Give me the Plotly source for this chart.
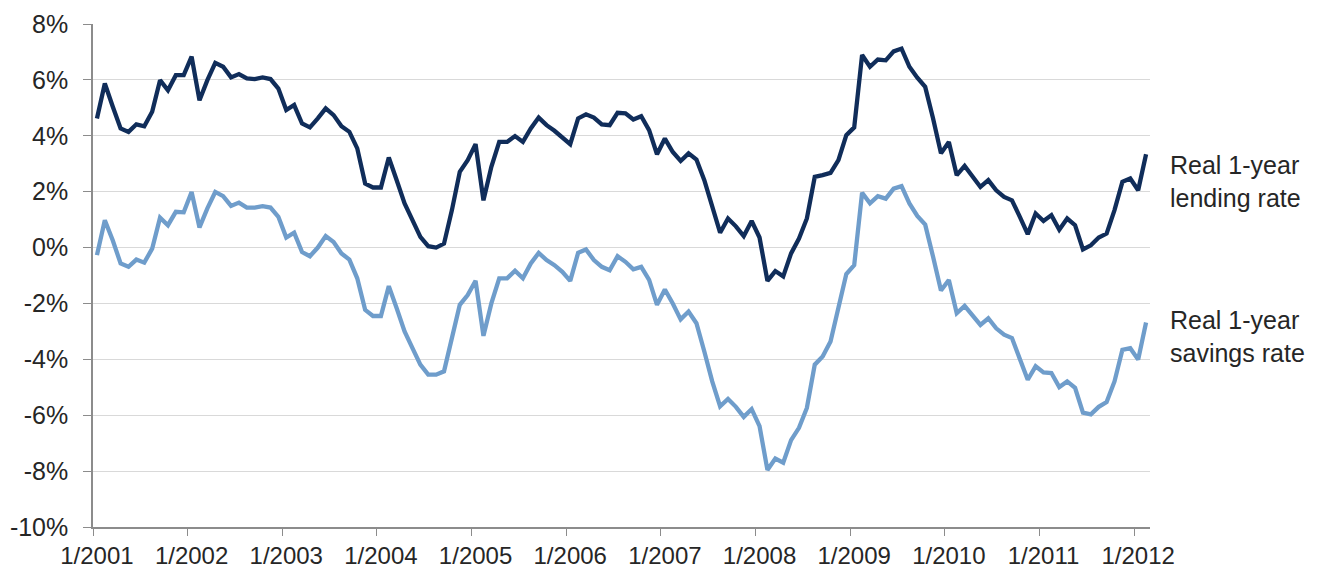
import plotly.graph_objects as go

# Monthly observations, Jan 2001 – Feb 2012
years = list(range(2001, 2013))
months = [f"{m}/{y}" for y in years for m in range(1, 13)][:134]

# Real 1-year lending rate, %
lending = [
    4.62, 5.87, 5.05, 4.26, 4.14, 4.41, 4.34, 4.86, 5.99, 5.63, 6.17, 6.17,
    6.83, 5.27, 5.99, 6.61, 6.47, 6.09, 6.21, 6.05, 6.03, 6.09, 6.03, 5.69,
    4.92, 5.10, 4.44, 4.30, 4.62, 4.98, 4.74, 4.34, 4.14, 3.55, 2.29, 2.15,
    2.15, 3.22, 2.41, 1.58, 0.98, 0.38, 0.05, 0.00, 0.14, 1.34, 2.71, 3.13,
    3.70, 1.69, 2.89, 3.78, 3.78, 3.99, 3.78, 4.26, 4.65, 4.38, 4.18, 3.94,
    3.70, 4.62, 4.77, 4.65, 4.41, 4.38, 4.82, 4.80, 4.58, 4.70, 4.20, 3.34,
    3.90, 3.42, 3.10, 3.37, 3.15, 2.41, 1.46, 0.53, 1.04, 0.76, 0.41, 0.95,
    0.36, -1.19, -0.84, -1.03, -0.21, 0.32, 1.04, 2.53, 2.59, 2.67, 3.13, 4.02,
    4.30, 6.89, 6.47, 6.73, 6.70, 7.02, 7.12, 6.47, 6.08, 5.75, 4.62, 3.37,
    3.78, 2.59, 2.92, 2.53, 2.17, 2.41, 2.05, 1.81, 1.69, 1.10, 0.48, 1.22,
    0.95, 1.16, 0.64, 1.04, 0.80, -0.07, 0.08, 0.36, 0.50, 1.34, 2.35, 2.47,
    2.05, 3.34,
]

# Real 1-year savings rate, %
savings = [
    -0.27, 0.98, 0.26, -0.57, -0.69, -0.43, -0.54, -0.04, 1.07, 0.80, 1.28, 1.26,
    1.99, 0.72, 1.40, 1.99, 1.84, 1.49, 1.61, 1.43, 1.43, 1.48, 1.43, 1.10,
    0.36, 0.53, -0.16, -0.31, 0.00, 0.41, 0.20, -0.21, -0.43, -1.10, -2.23, -2.45,
    -2.45, -1.38, -2.17, -3.00, -3.60, -4.19, -4.55, -4.55, -4.43, -3.30, -2.05, -1.70,
    -1.19, -3.16, -2.00, -1.10, -1.10, -0.83, -1.10, -0.57, -0.19, -0.45, -0.63, -0.87,
    -1.19, -0.19, -0.07, -0.45, -0.69, -0.81, -0.31, -0.51, -0.78, -0.69, -1.16, -2.05,
    -1.50, -2.00, -2.57, -2.29, -2.71, -3.72, -4.79, -5.68, -5.42, -5.70, -6.06, -5.78,
    -6.39, -7.96, -7.55, -7.70, -6.89, -6.45, -5.74, -4.19, -3.90, -3.36, -2.23, -0.95,
    -0.63, 1.96, 1.58, 1.84, 1.75, 2.11, 2.20, 1.58, 1.13, 0.82, -0.33, -1.54,
    -1.16, -2.35, -2.09, -2.45, -2.77, -2.53, -2.89, -3.12, -3.24, -3.99, -4.73, -4.25,
    -4.47, -4.49, -4.99, -4.79, -5.02, -5.91, -5.97, -5.70, -5.53, -4.79, -3.66, -3.60,
    -4.01, -2.68,
]

year_labels = [f"1/{y}" for y in years]
y_ticks = list(range(-10, 9, 2))

x_pos = list(range(len(months)))
label_pos = [months.index(lbl) for lbl in year_labels]
boundary_pos = [p - 0.5 for p in label_pos]

DARK = "#102d5a"
LIGHT = "#6f9dcb"
AXIS = "#8c8c8c"
TEXT = "#262626"
FONT = "Liberation Sans, Arial, sans-serif"

fig = go.Figure()
fig.add_trace(go.Scatter(
    x=x_pos, y=lending, mode="lines", name="Real 1-year lending rate",
    line=dict(color=DARK, width=4.3), customdata=months,
    hovertemplate="%{customdata}: %{y:.2f}%<extra></extra>",
))
fig.add_trace(go.Scatter(
    x=x_pos, y=savings, mode="lines", name="Real 1-year savings rate",
    line=dict(color=LIGHT, width=4.3), customdata=months,
    hovertemplate="%{customdata}: %{y:.2f}%<extra></extra>",
))

fig.update_layout(
    width=1325, height=571,
    margin=dict(l=93, r=175, t=24, b=44),
    paper_bgcolor="white", plot_bgcolor="white",
    showlegend=False,
    font=dict(family=FONT, size=25, color=TEXT),
    xaxis=dict(
        range=[-0.5, len(months) - 0.5], automargin=False,
        tickmode="array", tickvals=label_pos, ticktext=year_labels,
        ticks="outside", ticklen=6, tickcolor="rgba(0,0,0,0)",
        tickfont=dict(size=24),
        showgrid=False, zeroline=False,
        showline=True, linecolor=AXIS, linewidth=1.5,
        minor=dict(tickmode="array", tickvals=boundary_pos, ticks="outside",
                   ticklen=7, tickcolor=AXIS, tickwidth=1.2, showgrid=False),
    ),
    yaxis=dict(
        range=[-10, 8], automargin=False, tickmode="array", tickvals=y_ticks,
        ticktext=[f"{v}%" for v in y_ticks],
        ticks="outside", ticklen=8, tickcolor=AXIS, tickwidth=1.2,
        ticklabelstandoff=10, tickfont=dict(size=25),
        showgrid=True, gridcolor="#d9d9d9", gridwidth=1.2,
        zeroline=False, showline=True, linecolor=AXIS, linewidth=1.5,
    ),
    annotations=[
        dict(text="Real 1-year<br>lending rate", xref="paper", yref="y",
             x=1.017, y=2.37, xanchor="left", yanchor="middle", align="left",
             showarrow=False, font=dict(size=25, color=TEXT)),
        dict(text="Real 1-year<br>savings rate", xref="paper", yref="y",
             x=1.017, y=-3.17, xanchor="left", yanchor="middle", align="left",
             showarrow=False, font=dict(size=25, color=TEXT)),
    ],
)

fig.write_html("out.html")
